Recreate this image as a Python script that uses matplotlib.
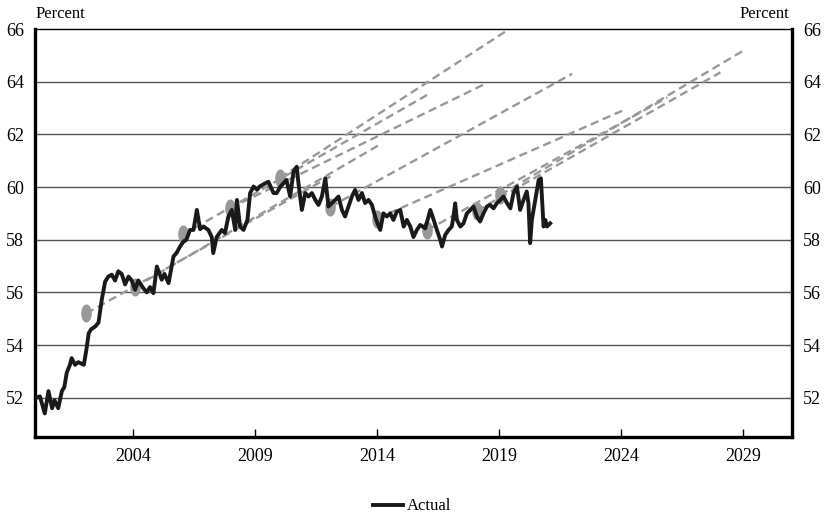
import matplotlib.pyplot as plt
import numpy as np
from matplotlib.path import Path

# Actual series (decimal year, percent)
actual_year = [
    2000.07, 2000.2, 2000.4, 2000.55, 2000.7, 2000.8, 2000.95, 2001.1, 2001.2, 2001.3,
    2001.43, 2001.5, 2001.64, 2001.77, 2002.0, 2002.1, 2002.2, 2002.3, 2002.46, 2002.6,
    2002.73, 2002.87, 2003.0, 2003.14, 2003.28, 2003.41, 2003.55, 2003.69, 2003.83, 2003.96,
    2004.1, 2004.23, 2004.44, 2004.58, 2004.71, 2004.85, 2004.99, 2005.19, 2005.3, 2005.47,
    2005.67, 2005.8, 2005.94, 2006.08, 2006.2, 2006.35, 2006.49, 2006.63, 2006.76, 2006.9,
    2007.1, 2007.24, 2007.3, 2007.44, 2007.65, 2007.78, 2007.92, 2008.06, 2008.2, 2008.27,
    2008.4, 2008.54, 2008.7, 2008.81, 2008.95, 2009.1, 2009.2, 2009.43, 2009.56, 2009.77,
    2009.9, 2010.04, 2010.17, 2010.3, 2010.45, 2010.59, 2010.72, 2010.79, 2010.93, 2011.07,
    2011.2, 2011.34, 2011.48, 2011.61, 2011.75, 2011.89, 2012.02, 2012.16, 2012.3, 2012.43,
    2012.57, 2012.7, 2012.84, 2012.98, 2013.11, 2013.25, 2013.39, 2013.52, 2013.66, 2013.8,
    2013.93, 2014.0, 2014.14, 2014.27, 2014.41, 2014.55, 2014.68, 2014.82, 2014.96, 2015.1,
    2015.23, 2015.37, 2015.5, 2015.64, 2015.78, 2015.98, 2016.12, 2016.19, 2016.33, 2016.46,
    2016.6, 2016.67, 2016.8, 2016.94, 2017.07, 2017.14, 2017.21, 2017.28, 2017.42, 2017.55,
    2017.69, 2017.83, 2017.96, 2018.1, 2018.23, 2018.37, 2018.51, 2018.64, 2018.78, 2018.92,
    2019.06, 2019.19, 2019.33, 2019.47, 2019.6, 2019.74, 2019.87, 2020.01, 2020.14, 2020.21,
    2020.28, 2020.35, 2020.49, 2020.63, 2020.72, 2020.83, 2020.9, 2020.97, 2021.1,
]
actual_val = [
    52.0, 52.05, 51.4, 52.25, 51.6, 51.9, 51.6, 52.25, 52.4, 52.95,
    53.25, 53.5, 53.25, 53.35, 53.25, 53.8, 54.45, 54.6, 54.7, 54.85,
    55.7, 56.4, 56.6, 56.67, 56.45, 56.8, 56.7, 56.3, 56.6, 56.45,
    56.1, 56.45, 56.15, 56.0, 56.2, 55.97, 56.98, 56.48, 56.7, 56.35,
    57.36, 57.5, 57.74, 57.93, 58.0, 58.37, 58.37, 59.13, 58.4, 58.5,
    58.37, 58.1, 57.49, 58.1, 58.37, 58.25, 58.88, 59.13, 58.37, 59.51,
    58.5, 58.37, 58.75, 59.77, 60.02, 59.9, 60.02, 60.14, 60.2, 59.77,
    59.77, 60.0, 60.14, 60.27, 59.64, 60.6, 60.77, 60.14, 59.13, 59.77,
    59.64, 59.77, 59.51, 59.32, 59.64, 60.33, 59.26, 59.39, 59.51, 59.64,
    59.13, 58.88, 59.26, 59.64, 59.89, 59.51, 59.77, 59.39, 59.51, 59.32,
    58.88, 58.69, 58.37, 59.0, 58.88, 59.0, 58.75, 59.07, 59.13, 58.5,
    58.75, 58.5, 58.1, 58.37, 58.56, 58.43, 58.88, 59.13, 58.75, 58.37,
    57.99, 57.74, 58.18, 58.37, 58.5, 58.88, 59.38, 58.75, 58.5, 58.62,
    59.0, 59.13, 59.26, 58.88, 58.69, 59.0, 59.26, 59.32, 59.19, 59.39,
    59.51, 59.64, 59.39, 59.19, 59.77, 60.02, 59.13, 59.51, 59.83, 59.39,
    57.87, 58.75, 59.51, 60.27, 60.33, 58.5, 58.75, 58.5, 58.62,
]

# Projections: starting point (grey dot) and end of the dashed line
proj_start_year = [2002.1, 2004.1, 2006.07, 2008.0, 2010.04, 2012.1, 2014.0, 2016.07, 2018.1, 2019.06]
proj_start_val = [55.2, 56.2, 58.2, 59.2, 60.35, 59.25, 58.8, 58.37, 59.1, 59.7]
proj_end_year = [2012.1, 2014.1, 2016.07, 2018.4, 2019.26, 2022.0, 2024.06, 2025.9, 2028.07, 2029.05]
proj_end_val = [60.4, 61.6, 63.5, 63.9, 65.9, 64.3, 62.9, 63.4, 64.35, 65.2]

xticks = [2004, 2009, 2014, 2019, 2024, 2029]
yticks = [52, 54, 56, 58, 60, 62, 64, 66]

plt.rcParams['font.family'] = ['Liberation Serif', 'DejaVu Serif']

fig = plt.figure(figsize=(8.24, 5.18), dpi=100)
ax = fig.add_axes([0.0425, 0.156, 0.9185, 0.788])

# horizontal grid lines
for y in yticks[:-1]:
    ax.axhline(y, color='#555555', lw=1.0, zorder=1)

# dashed projections
for i in range(len(proj_start_year)):
    ax.plot([proj_start_year[i], proj_end_year[i]], [proj_start_val[i], proj_end_val[i]],
            color='#999999', lw=1.7, linestyle=(0, (3.5, 2)), zorder=2)

# grey ellipse markers at projection start
t = np.linspace(0, 2 * np.pi, 40)
ellipse = Path(np.column_stack([0.55 * np.cos(t), np.sin(t)]))
ax.plot(proj_start_year, proj_start_val, linestyle='none', marker=ellipse,
        markersize=12, color='#999999', zorder=3)

ax.plot(actual_year, actual_val, color='#1a1a1a', lw=2.8, zorder=4,
        solid_joinstyle='round', label='Actual')

ax.set_xlim(2000, 2031)
ax.set_ylim(50.5, 66)
ax.set_xticks(xticks)
ax.set_yticks(yticks)
ax.tick_params(axis='x', direction='in', length=6, width=1, labelsize=13, pad=8)
ax.tick_params(axis='y', length=0, labelsize=13, pad=8, labelleft=True, labelright=True)

for side in ['left', 'bottom', 'right']:
    ax.spines[side].set_linewidth(2.4)
    ax.spines[side].set_color('black')
ax.spines['top'].set_linewidth(1.0)
ax.spines['top'].set_linestyle((0, (1, 1)))

fig.text(0.0425, 0.958, 'Percent', fontsize=12, ha='left', va='bottom')
fig.text(0.958, 0.958, 'Percent', fontsize=12, ha='right', va='bottom')

fig.legend(handles=ax.get_lines()[-1:], loc='lower center', bbox_to_anchor=(0.5, -0.022),
           frameon=False, fontsize=12, handlelength=1.8, handletextpad=0.2)

fig.savefig('out.png', dpi=100)
